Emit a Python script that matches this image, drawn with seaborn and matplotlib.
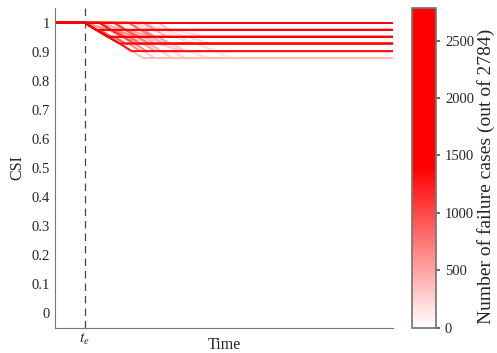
import numpy as np
import pandas as pd
import matplotlib
matplotlib.use("Agg")
import matplotlib.pyplot as plt
import matplotlib.colors as mcolors
import seaborn as sns

# ---- data ----
csi_levels = [1.0, 0.975, 0.951, 0.928, 0.902, 0.878]
t_end = 23.0
t_e = 2.0
# each path: start times of its successive drops, ramp width of each drop, case count
path_drops = [
    [],
    [2], [3], [4], [5], [6], [7],
    [2, 2.8], [3, 3.8], [4, 4.8], [5, 5.8], [6, 6.8], [2, 4], [3, 5], [5, 8], [2, 3], [4, 6], [2, 5],
    [2, 2.8, 3.6], [3, 3.8, 4.6], [4, 4.8, 5.6], [5, 5.8, 6.6], [2, 4, 6], [6, 7.5, 9],
    [2, 3, 4], [3, 4, 5], [2, 3, 5], [4, 5, 7], [3, 5, 6],
    [2, 2.8, 3.6, 4.4], [3, 3.8, 4.6, 5.4], [4, 4.8, 5.6, 6.4], [2, 3, 5, 7], [5, 6.5, 8, 9.5],
    [2, 3, 4, 5], [3, 4, 5, 6], [2, 4, 5, 6], [4, 5, 6, 8],
    [2, 2.8, 3.6, 4.4, 5.2], [4, 4.8, 5.6, 6.4, 7.2], [3, 4.5, 6, 7.5, 9], [6, 7.2, 8.4, 9.6, 10.8],
    [2, 3, 4, 5, 6], [3, 4, 5, 6, 8],
]
path_ramp = [
    0.8,
    0.8, 0.8, 0.8, 0.8, 0.8, 0.8,
    0.8, 0.8, 0.8, 0.8, 0.8, 1.6, 1.6, 2.4, 0.8, 0.8, 0.8,
    0.8, 0.8, 0.8, 0.8, 1.6, 1.5,
    0.8, 0.8, 0.8, 0.8, 0.8,
    0.8, 0.8, 0.8, 1.6, 1.5,
    0.8, 0.8, 0.8, 0.8,
    0.8, 0.8, 1.5, 1.2,
    0.8, 0.8,
]
path_count = [
    2784,
    2500, 1200, 1000, 800, 600, 400,
    2600, 1100, 900, 700, 450, 600, 450, 200, 1000, 700, 550,
    2300, 1000, 750, 500, 350, 200,
    900, 800, 700, 550, 450,
    1300, 700, 450, 300, 180,
    650, 500, 400, 300,
    380, 280, 180, 120,
    300, 220,
]
cbar_ticks = [0, 500, 1000, 1500, 2000, 2500]
total_cases = 2784

# ---- build long table ----
rows = []
for pid, (drops, w, c) in enumerate(zip(path_drops, path_ramp, path_count)):
    ts = [0.0]
    ys = [csi_levels[0]]
    for k, s in enumerate(drops):
        if s > ts[-1]:
            ts.append(s); ys.append(ys[-1])
        ts.append(s + w); ys.append(csi_levels[k + 1])
    ts.append(t_end); ys.append(ys[-1])
    for t, y in zip(ts, ys):
        rows.append(dict(path=pid, time=t, csi=y, count=c))
df = pd.DataFrame(rows)

sns.set_theme(style="white")
plt.rcParams["font.family"] = ["Liberation Serif", "DejaVu Serif"]
plt.rcParams["mathtext.fontset"] = "stix"

cmap = mcolors.LinearSegmentedColormap.from_list(
    "wr", [(0.0, "#ffffff"), (0.5, "#ff0000"), (1.0, "#ff0000")])
norm = mcolors.Normalize(0, total_cases)

fig = plt.figure(figsize=(4.97, 3.53), dpi=100)
ax = fig.add_axes([0.111, 0.072, 0.68, 0.905])
cax = fig.add_axes([0.829, 0.072, 0.048, 0.905])

sns.lineplot(data=df, x="time", y="csi", hue="count", units="path", estimator=None,
             palette=cmap, hue_norm=norm, linewidth=1.4, legend=False, ax=ax, sort=False)

ax.axvline(t_e, color="#444444", linestyle=(0, (6, 4)), linewidth=0.9)
ax.set_xlim(0, t_end)
ax.set_ylim(-0.05, 1.05)
ax.set_yticks(np.round(np.arange(0, 1.01, 0.1), 1))
ax.set_yticklabels(["0"] + [f"{v:.1f}" for v in np.arange(0.1, 0.95, 0.1)] + ["1"], fontsize=10.5)
ax.set_xticks([t_e])
ax.set_xticklabels([r"$t_e$"], fontsize=11)
ax.set_xlabel("Time", fontsize=11.5)
ax.xaxis.set_label_coords(0.5, -0.028)
ax.set_ylabel("CSI", fontsize=11.5, labelpad=4)
for s in ["top", "right"]:
    ax.spines[s].set_visible(False)
for s in ["left", "bottom"]:
    ax.spines[s].set_color("#777777")
    ax.spines[s].set_linewidth(0.8)
ax.tick_params(axis="y", direction="in", length=3, color="#555555", pad=4)
ax.tick_params(axis="x", length=0, pad=3)

sm = plt.cm.ScalarMappable(cmap=cmap, norm=norm)
cb = fig.colorbar(sm, cax=cax)
cb.set_ticks(cbar_ticks)
cb.ax.tick_params(labelsize=10.5, direction="out", length=3, color="#555555")
cb.outline.set_edgecolor("#777777")
fig.text(486 / 497, 0.5, "Number of failure cases (out of 2784)", rotation=90,
         ha="center", va="center", fontsize=14)

fig.savefig("out.png", dpi=100)
